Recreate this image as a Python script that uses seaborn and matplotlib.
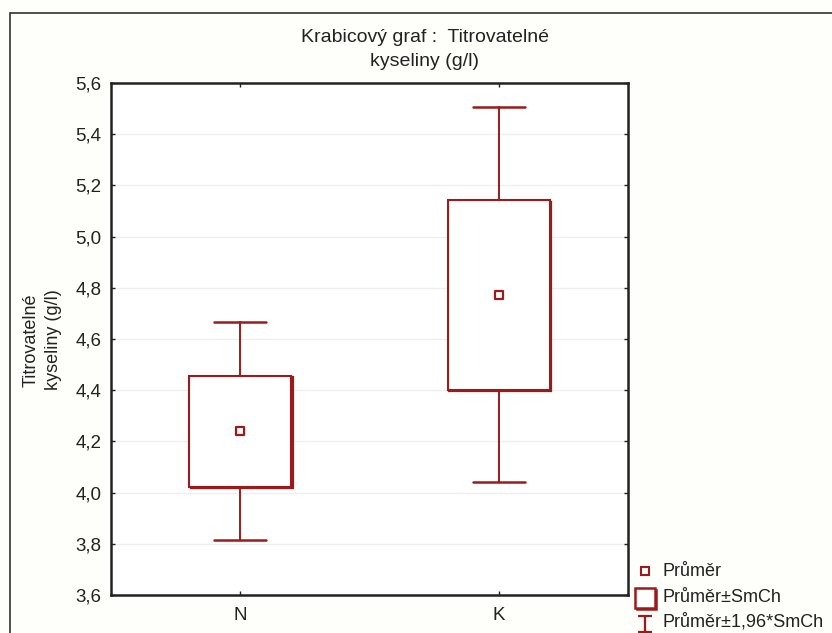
import matplotlib
matplotlib.use("Agg")
import matplotlib.pyplot as plt
import matplotlib.patheffects as pe
from matplotlib.lines import Line2D
from matplotlib.patches import Rectangle
from matplotlib.path import Path
from matplotlib import font_manager
import seaborn as sns
import pandas as pd

# ---- data ----
categories = ["N", "K"]
means = [4.24, 4.77]
se_low = [4.023, 4.402]
se_high = [4.457, 5.142]
ci_low = [3.815, 4.042]
ci_high = [4.668, 5.506]
yticks = [3.6, 3.8, 4.0, 4.2, 4.4, 4.6, 4.8, 5.0, 5.2, 5.4, 5.6]
ytick_labels = ["3,6", "3,8", "4,0", "4,2", "4,4", "4,6", "4,8", "5,0", "5,2", "5,4", "5,6"]
title_lines = ["Krabicový graf :  Titrovatelné", "kyseliny (g/l)"]
ylabel_lines = ["Titrovatelné", "kyseliny (g/l)"]
legend_labels = ["Průměr", "Průměr±SmCh", "Průměr±1,96*SmCh"]

sns.set_style("white")
names = {f.name for f in font_manager.fontManager.ttflist}
narrow = "Liberation Sans Narrow" if "Liberation Sans Narrow" in names else "Liberation Sans"
plt.rcParams["font.family"] = ["Liberation Sans", "DejaVu Sans"]

RED = "#9e1a1a"
BG = "#fefefa"
TXT = "#222222"

fig = plt.figure(figsize=(8.32, 6.33), dpi=100, facecolor=BG)
ax = fig.add_axes([111 / 832, 1 - 595 / 633, (628 - 111) / 832, (595 - 83) / 633])
ax.set_facecolor("white")

# outer frame
fig.patches.append(Rectangle((10 / 832, -0.1), 1.2, (633 - 13) / 633 + 0.1,
                             transform=fig.transFigure, fill=False,
                             edgecolor="#333333", linewidth=1.2))

df = pd.DataFrame({"cat": categories, "mean": means})

stats = []
for i, c in enumerate(categories):
    stats.append(dict(med=means[i], q1=se_low[i], q3=se_high[i],
                      whislo=ci_low[i], whishi=ci_high[i], fliers=[], label=c))

box_fx = [pe.Stroke(linewidth=1.6, foreground=RED, offset=(1.1, -1.1)), pe.Normal()]
bp = ax.bxp(stats, positions=[0, 1], widths=0.395, showfliers=False,
            patch_artist=True, manage_ticks=False,
            boxprops=dict(facecolor="white", edgecolor=RED, linewidth=1.5,
                          path_effects=box_fx),
            whiskerprops=dict(color=RED, linewidth=1.4),
            capprops=dict(color=RED, linewidth=1.8),
            medianprops=dict(linewidth=0),
            capwidths=0.2)

sns.scatterplot(data=df, x="cat", y="mean", ax=ax, marker="s", s=36,
                facecolor="white", edgecolor=RED, linewidth=1.6, zorder=5)

ax.set_xlim(-0.5, 1.5)
ax.set_ylim(3.6, 5.6)
ax.set_yticks(yticks)
ax.set_yticklabels(ytick_labels)
ax.set_xticks([0, 1])
ax.set_xticklabels(categories)
ax.yaxis.grid(True, color="#eeeeee", linewidth=0.9)
ax.set_axisbelow(True)
ax.set_xlabel("")
ax.set_ylabel("")
ax.tick_params(axis="both", direction="in", length=3, width=1, color=TXT,
               labelsize=13.5, labelcolor=TXT, pad=7,
               top=True, right=True, bottom=True, left=True)
ax.tick_params(axis="x", pad=9)
for s in ax.spines.values():
    s.set_visible(True)
    s.set_color(TXT)
    s.set_linewidth(1.8)

fig.text(425 / 832, 1 - 37 / 633, title_lines[0], ha="center", va="center",
         fontsize=14, family=[narrow, "DejaVu Sans"], color=TXT)
fig.text(425 / 832, 1 - 61 / 633, title_lines[1], ha="center", va="center",
         fontsize=14, family=[narrow, "DejaVu Sans"], color=TXT)

fig.text(31 / 832, 1 - 340 / 633, ylabel_lines[0], rotation=90, ha="center", va="center",
         fontsize=13, family=[narrow, "DejaVu Sans"], color=TXT)
fig.text(53 / 832, 1 - 340 / 633, ylabel_lines[1], rotation=90, ha="center", va="center",
         fontsize=13, family=[narrow, "DejaVu Sans"], color=TXT)

# legend (custom handles)
ibar = Path([(-0.42, 0.5), (0.42, 0.5), (0, 0.5), (0, -0.5), (-0.42, -0.5), (0.42, -0.5)],
            [Path.MOVETO, Path.LINETO, Path.MOVETO, Path.LINETO, Path.MOVETO, Path.LINETO])
legend_handles = [
    dict(marker="s", ms=5.5, mew=1.5, y=571, fx=None),
    dict(marker="s", ms=14, mew=1.8, y=598,
         fx=[pe.Stroke(linewidth=1.8, foreground=RED, offset=(1.1, -1.1)), pe.Normal()]),
    dict(marker=ibar, ms=12, mew=1.6, y=624, fx=None),
]
text_y = [572, 597, 622]
for h, lab, ty in zip(legend_handles, legend_labels, text_y):
    ln = Line2D([645 / 832], [1 - h["y"] / 633], transform=fig.transFigure,
                linestyle="none", marker=h["marker"], markersize=h["ms"],
                markerfacecolor="white", markeredgecolor=RED, markeredgewidth=h["mew"])
    if h["fx"]:
        ln.set_path_effects(h["fx"])
    fig.add_artist(ln)
    fig.text(662 / 832, 1 - ty / 633, lab, ha="left", va="center",
             fontsize=13, color=TXT)

fig.savefig("out.png", dpi=100, facecolor=BG)
